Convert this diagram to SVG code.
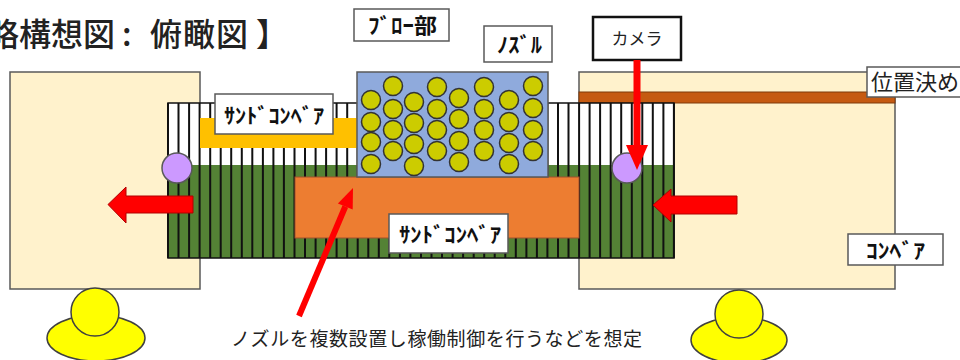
<svg xmlns="http://www.w3.org/2000/svg" width="960" height="360" viewBox="0 0 960 360">
  <style>
    .base { fill: #FFF2CC; stroke: #595959; stroke-width: 1.5; }
    .lbl { fill: #FFFFFF; stroke: #595959; stroke-width: 1.5; }
    .lbltxt { font-family: "Noto Sans CJK JP", "DejaVu Sans", sans-serif; font-size: 21px; font-weight: bold; fill: #111; }
    .thin { font-family: "Noto Sans CJK JP", "DejaVu Sans", sans-serif; fill: #222; }
    .nz { fill: #CCCC00; stroke: #333; stroke-width: 1.5; }
    .sensor { fill: #CC99FF; stroke: #595959; stroke-width: 1.5; }
    .push { fill: #FF0000; stroke: #B00000; stroke-width: 1; }
    .person { fill: #FFFF00; stroke: #404040; stroke-width: 1.5; }
  </style>

  <rect width="960" height="360" fill="#FFFFFF"/>

  <!-- title -->
  <text class="thin" font-size="32" font-weight="500" y="46" fill="#111" x="-13 19 51 83 122 150 183 216 256">略構想図:俯瞰図】</text>

  <!-- stations on both sides -->
  <g id="station-left">
    <rect class="base" x="10" y="72" width="190" height="217"/>
  </g>
  <g id="station-right">
    <rect class="base" x="579" y="72" width="316" height="217"/>
    <rect x="579" y="92" width="316" height="11" fill="#C55A11" stroke="#7F3A0B" stroke-width="1"/>
  </g>

  <!-- slat conveyor -->
  <g id="slat-conveyor">
    <rect x="168" y="103" width="506" height="62" fill="#FFFFFF"/>
    <rect x="168" y="165" width="506" height="93" fill="#548235"/>
    <path stroke="#111" stroke-width="2" fill="none" d="M168 103V258M178.5 103V258M189.1 103V258M199.6 103V258M210.2 103V258M220.7 103V258M231.2 103V258M241.8 103V258M252.3 103V258M262.9 103V258M273.4 103V258M283.9 103V258M294.5 103V258M305 103V258M315.6 103V258M326.1 103V258M336.6 103V258M347.2 103V258M357.7 103V258M368.3 103V258M378.8 103V258M389.3 103V258M399.9 103V258M410.4 103V258M421 103V258M431.5 103V258M442 103V258M452.6 103V258M463.1 103V258M473.7 103V258M484.2 103V258M494.7 103V258M505.3 103V258M515.8 103V258M526.4 103V258M536.9 103V258M547.4 103V258M558 103V258M568.5 103V258M579.1 103V258M589.6 103V258M600.1 103V258M610.7 103V258M621.2 103V258M631.8 103V258M642.3 103V258M652.8 103V258M663.4 103V258M673.9 103V258"/>
    <rect x="168" y="103" width="506" height="155" fill="none" stroke="#111" stroke-width="1.5"/>
  </g>

  <!-- upper sand conveyor -->
  <g id="sand-conveyor-upper">
    <rect x="200" y="118" width="158" height="30" fill="#FFC000"/>
  </g>

  <!-- lower sand conveyor -->
  <g id="sand-conveyor-lower">
    <rect x="295" y="177" width="284" height="61" fill="#ED7D31" stroke="#A0522D" stroke-width="1"/>
  </g>

  <!-- blow unit with nozzles -->
  <g id="blow-unit">
    <rect x="357" y="72" width="191" height="105" fill="#8FAADC" stroke="#595959" stroke-width="1.5"/>
    <circle class="nz" cx="371" cy="100" r="9.5"/>
    <circle class="nz" cx="371" cy="122" r="9.5"/>
    <circle class="nz" cx="371" cy="142" r="9.5"/>
    <circle class="nz" cx="371" cy="164" r="9.5"/>
    <circle class="nz" cx="393" cy="86" r="9.5"/>
    <circle class="nz" cx="393" cy="109" r="9.5"/>
    <circle class="nz" cx="393" cy="130" r="9.5"/>
    <circle class="nz" cx="393" cy="151" r="9.5"/>
    <circle class="nz" cx="414" cy="102" r="9.5"/>
    <circle class="nz" cx="414" cy="123" r="9.5"/>
    <circle class="nz" cx="414" cy="144" r="9.5"/>
    <circle class="nz" cx="414" cy="166" r="9.5"/>
    <circle class="nz" cx="437" cy="87" r="9.5"/>
    <circle class="nz" cx="437" cy="109" r="9.5"/>
    <circle class="nz" cx="437" cy="130" r="9.5"/>
    <circle class="nz" cx="437" cy="151" r="9.5"/>
    <circle class="nz" cx="459" cy="98" r="9.5"/>
    <circle class="nz" cx="459" cy="119" r="9.5"/>
    <circle class="nz" cx="459" cy="141" r="9.5"/>
    <circle class="nz" cx="459" cy="162" r="9.5"/>
    <circle class="nz" cx="484" cy="87" r="9.5"/>
    <circle class="nz" cx="484" cy="109" r="9.5"/>
    <circle class="nz" cx="484" cy="130" r="9.5"/>
    <circle class="nz" cx="484" cy="151" r="9.5"/>
    <circle class="nz" cx="509" cy="100" r="9.5"/>
    <circle class="nz" cx="509" cy="122" r="9.5"/>
    <circle class="nz" cx="509" cy="143" r="9.5"/>
    <circle class="nz" cx="509" cy="164" r="9.5"/>
    <circle class="nz" cx="533" cy="86" r="9.5"/>
    <circle class="nz" cx="533" cy="108" r="9.5"/>
    <circle class="nz" cx="533" cy="130" r="9.5"/>
    <circle class="nz" cx="533" cy="151" r="9.5"/>
  </g>

  <!-- position sensors -->
  <g id="sensor-left"><circle class="sensor" cx="177" cy="168" r="15"/></g>
  <g id="sensor-right"><circle class="sensor" cx="627" cy="168" r="15"/></g>

  <!-- operators -->
  <g id="operator-left">
    <ellipse class="person" cx="96" cy="338" rx="49" ry="23"/>
    <circle class="person" cx="95" cy="312" r="24"/>
  </g>
  <g id="operator-right">
    <ellipse class="person" cx="739" cy="340" rx="48" ry="23"/>
    <circle class="person" cx="739" cy="314" r="24"/>
  </g>

  <!-- labels -->
  <g id="label-blow">
    <rect class="lbl" x="354" y="9" width="95" height="32"/>
    <text class="lbltxt" x="368" y="33" textLength="69" lengthAdjust="spacingAndGlyphs">ﾌﾞﾛｰ部</text>
  </g>
  <g id="label-nozzle">
    <rect class="lbl" x="484" y="26" width="68" height="36"/>
    <text class="lbltxt" x="497" y="52" textLength="45" lengthAdjust="spacingAndGlyphs">ﾉｽﾞﾙ</text>
  </g>
  <g id="label-camera">
    <rect x="593" y="17" width="88" height="43" fill="#FFFFFF" stroke="#111" stroke-width="2.5"/>
    <text class="thin" font-size="17" x="637" y="45" text-anchor="middle">カメラ</text>
  </g>
  <g id="label-positioning">
    <rect class="lbl" x="867" y="67" width="100" height="30"/>
    <text class="thin" font-size="22" x="871" y="90">位置決め</text>
  </g>
  <g id="label-sand-upper">
    <rect class="lbl" x="215" y="94" width="118" height="40"/>
    <text class="lbltxt" x="224" y="123" textLength="100" lengthAdjust="spacingAndGlyphs">ｻﾝﾄﾞｺﾝﾍﾞｱ</text>
  </g>
  <g id="label-sand-lower">
    <rect class="lbl" x="389" y="214" width="119" height="39"/>
    <text class="lbltxt" x="399" y="242" textLength="102" lengthAdjust="spacingAndGlyphs">ｻﾝﾄﾞｺﾝﾍﾞｱ</text>
  </g>
  <g id="label-conveyor">
    <rect class="lbl" x="848" y="234" width="95" height="31"/>
    <text class="lbltxt" x="866" y="258" textLength="59" lengthAdjust="spacingAndGlyphs">ｺﾝﾍﾞｱ</text>
  </g>

  <!-- connectors and flow arrows -->
  <g id="connectors">
    <polygon class="push" points="193,196 126,196 126,187 108,204.5 126,223 126,213 193,213"/>
    <polygon class="push" points="737,196 671,196 671,189 653,205 671,222 671,214 737,214"/>
    <line x1="637" y1="60" x2="637" y2="147" stroke="#FF0000" stroke-width="7"/>
    <polygon points="626,145 648,145 637,170" fill="#FF0000"/>
    <line x1="299" y1="316" x2="345.3" y2="206.5" stroke="#FF0000" stroke-width="6"/>
    <polygon points="352.7,209.6 337.9,203.4 353,188" fill="#FF0000"/>
  </g>

  <text class="thin" font-size="19" x="231" y="346" textLength="411" lengthAdjust="spacing">ノズルを複数設置し稼働制御を行うなどを想定</text>
</svg>
